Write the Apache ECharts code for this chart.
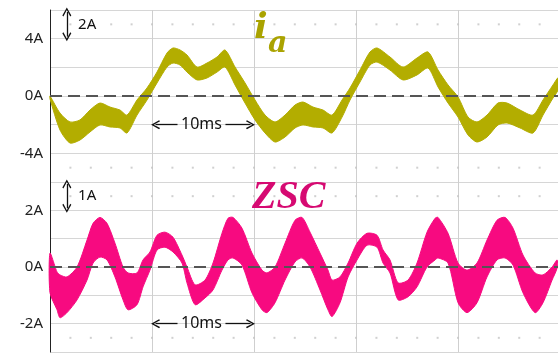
<!DOCTYPE html>
<html><head><meta charset="utf-8">
<script src="https://cdn.jsdelivr.net/npm/echarts@6/dist/echarts.min.js"></script>
<style>html,body{margin:0;padding:0;background:#fff}#c{width:558px;height:354px}</style>
</head><body><div id="c"></div>
<script>
// ---- data: top panel i_a (time ms, upper/lower envelope in A)
const tA=[0,0.98,1.96,2.94,3.92,4.90,5.88,6.86,7.55,8.53,9.51,10.49,11.47,12.06,12.75,13.43,14.41,15.39,16.37,17.16,18.14,19.12,20.10,21.08,22.06,23.04,24.02,24.80,25.78,26.76,27.65,28.63,29.41,30.39,31.37,32.06,33.33,34.61,35.98,37.06,38.04,39.02,40.0,40.98,41.86,42.84,43.92,44.80,46.08,47.35,48.33,49.31,49.8];
const upA=[0,-1.19,-1.81,-1.67,-0.98,-0.49,-0.77,-0.98,-1.33,-0.28,0.56,1.67,3.0,3.35,3.21,2.86,2.02,2.30,2.72,3.21,2.02,0.91,-0.28,-1.33,-1.81,-1.33,-0.63,-0.42,-0.77,-0.98,-1.33,-0.28,0.56,1.81,3.07,3.35,2.72,2.02,2.65,3.07,1.81,0.77,-0.07,-1.47,-1.81,-1.33,-0.49,-0.49,-0.98,-1.33,-0.28,0.77,1.26];
const loA=[-0.2,-2.37,-3.28,-3.07,-2.51,-2.02,-2.16,-2.23,-2.58,-1.33,-0.28,0.91,2.02,2.30,2.16,1.67,1.12,1.26,1.67,2.02,0.77,-0.49,-1.67,-2.58,-3.21,-2.86,-2.23,-2.02,-2.16,-2.23,-2.58,-1.47,-0.28,0.98,2.16,2.37,1.81,1.12,1.47,1.95,0.63,-0.49,-1.47,-2.72,-3.21,-2.86,-2.02,-1.88,-2.23,-2.58,-1.33,-0.14,0.42];
// ---- data: bottom panel ZSC
const tZ=[0,0.69,0.98,1.67,2.65,3.63,4.22,4.90,5.59,6.37,7.16,7.65,8.53,9.12,9.80,10.49,11.27,12.06,12.94,13.43,14.22,15.20,15.98,16.86,17.45,17.94,18.82,19.80,20.78,21.27,22.06,23.04,24.02,24.71,25.49,26.47,27.25,27.65,28.43,29.22,30.10,31.08,32.06,32.65,33.33,34.12,35.10,35.98,36.96,37.75,38.04,39.02,40.0,40.88,41.86,42.84,43.82,44.61,45.39,46.37,47.55,48.33,49.22,49.71];
const upZ=[0.49,-0.18,-0.28,-0.35,0,0.95,1.54,1.75,1.54,0.84,0,-0.21,-0.21,0.25,0.53,1.12,1.23,1.05,0.42,0,-0.63,-0.46,0.14,1.19,1.72,1.75,1.37,0.49,-0.11,-0.21,0,0.84,1.65,1.75,1.23,0.49,-0.11,-0.46,-0.35,0.14,0.84,1.19,1.12,0.60,0.25,-0.56,-0.46,0.14,1.23,1.72,1.75,1.19,0.14,-0.11,0.14,0.95,1.65,1.75,1.37,0.42,-0.21,-0.28,0,0.25];
const loZ=[-0.91,-1.51,-1.79,-1.61,-1.16,-0.46,0.14,0.35,0.25,-0.35,-1.16,-1.51,-1.33,-0.70,-0.11,0.60,0.70,0.53,0.14,-0.56,-1.33,-1.09,-0.81,-0.11,0.25,0.32,0.07,-0.91,-1.51,-1.61,-1.26,-0.46,0.18,0.32,0,-0.81,-1.51,-1.75,-1.26,-0.35,0.25,0.77,0.70,0.14,-0.21,-1.16,-1.05,-0.70,0,0.25,0.32,0.14,-1.26,-1.61,-1.26,-0.35,0.25,0.32,0.07,-0.91,-1.61,-1.26,-0.46,-0.04];
// ---- ticks / labels
const topLabels=[4,0,-4];
const botLabels=[2,0,-2];
const dotTimes=[2,4,6,8,10,12,14,16,18,20,22,24,26,28,30,32,34,36,38,40,42,44,46,48];
const topDotRows=[5,-5];
const botDotRows=[2.5,-2.5];
const T_MAX=49.8;

const OLIVE='#b3ad00', PINK='#f70a80';
const chev='path://M5,0 L10,8 L8.8,9 L5,2.6 L1.2,9 L0,8 Z';

function band(idx,t,up,lo,color){
  return {type:'custom',xAxisIndex:idx,yAxisIndex:idx,silent:true,z:3,
    data:[[t[0],up[0]]],
    renderItem:function(p,api){
      const pts=[];
      for(let i=0;i<t.length;i++)pts.push(api.coord([t[i],up[i]]));
      for(let i=t.length-1;i>=0;i--)pts.push(api.coord([t[i],lo[i]]));
      return {type:'polygon',shape:{points:pts,smooth:0.25},style:{fill:color,stroke:color,lineWidth:1}};
    }};
}
function dots(idx,rows){
  const d=[];rows.forEach(r=>dotTimes.forEach(t=>d.push([t,r])));
  return {type:'scatter',xAxisIndex:idx,yAxisIndex:idx,silent:true,symbol:'rect',symbolSize:2,itemStyle:{color:'#c4c4c4'},data:d,z:1};
}
function zero(idx,scaleTop,scaleBot,scaleTxt,scaleMid,arrowY){
  return {type:'line',xAxisIndex:idx,yAxisIndex:idx,silent:true,symbol:'none',z:10,
    data:[[0,0],[T_MAX,0]],lineStyle:{color:'#555',width:2,type:[12,6]},
    markLine:{silent:true,symbol:[chev,chev],symbolSize:9,animation:false,
      label:{show:false},
      lineStyle:{color:'#111',width:1.3,type:'solid'},
      data:[
        [{coord:[1.65,scaleTop]},{coord:[1.65,scaleBot]}],
        [{coord:[10.35,arrowY],symbol:chev},{coord:[12.5,arrowY],symbol:'none'}],
        [{coord:[17.2,arrowY],symbol:'none'},{coord:[19.65,arrowY],symbol:chev}]
      ]},
    markPoint:{silent:true,animation:false,symbol:'circle',symbolSize:0,
      data:[
        {coord:[2.75,scaleMid],label:{show:true,position:'right',distance:0,formatter:scaleTxt,color:'#111',fontSize:15,fontFamily:'Noto Sans'}},
        {coord:[14.85,arrowY],label:{show:true,position:'inside',formatter:'10ms',color:'#111',fontSize:16,fontFamily:'Noto Sans'}}
      ]}
  };
}
function xAx(idx){
  return {type:'value',gridIndex:idx,min:0,max:T_MAX,interval:10,
    axisLine:{show:false},axisTick:{show:false},axisLabel:{show:false},
    splitLine:{show:true,lineStyle:{color:'#cfcfcf',width:1}}};
}
function yAx(idx,mn,mx,iv,labels){
  return {type:'value',gridIndex:idx,min:mn,max:mx,interval:iv,
    axisLine:{show:true,lineStyle:{color:'#222',width:1}},axisTick:{show:false},
    axisLabel:{margin:7,color:'#222',fontSize:15,fontFamily:'Noto Sans',
      formatter:v=>labels.indexOf(v)>=0?(v+'A'):''},
    splitLine:{show:true,lineStyle:{color:'#d6d6d6',width:1}}};
}
const chart=echarts.init(document.getElementById('c'),null,{renderer:'canvas'});
chart.setOption({
  animation:false,backgroundColor:'#fff',
  grid:[{left:50,right:0,top:10,height:172},{left:50,right:0,top:182,height:170}],
  xAxis:[xAx(0),xAx(1)],
  yAxis:[yAx(0,-6,6,2,topLabels),yAx(1,-3,3,1,botLabels)],
  series:[
    dots(0,topDotRows),dots(1,botDotRows),
    band(0,tA,upA,loA,OLIVE),band(1,tZ,upZ,loZ,PINK),
    zero(0,5.86,4.14,'2A',5,-2),zero(1,2.93,2.07,'1A',2.5,-2)
  ],
  graphic:[
    {type:'text',left:254,top:11,z:20,style:{text:'i',fill:'#aaa300',font:'italic bold 36px "DejaVu Serif"'}},
    {type:'text',left:268,top:29,z:20,style:{text:'a',fill:'#aaa300',font:'italic bold 30px "DejaVu Serif"'}},
    {type:'text',left:252,top:178,z:20,style:{text:'ZSC',fill:'#d60a72',font:'italic bold 40px "Liberation Serif"'}}
  ]
});
</script></body></html>
